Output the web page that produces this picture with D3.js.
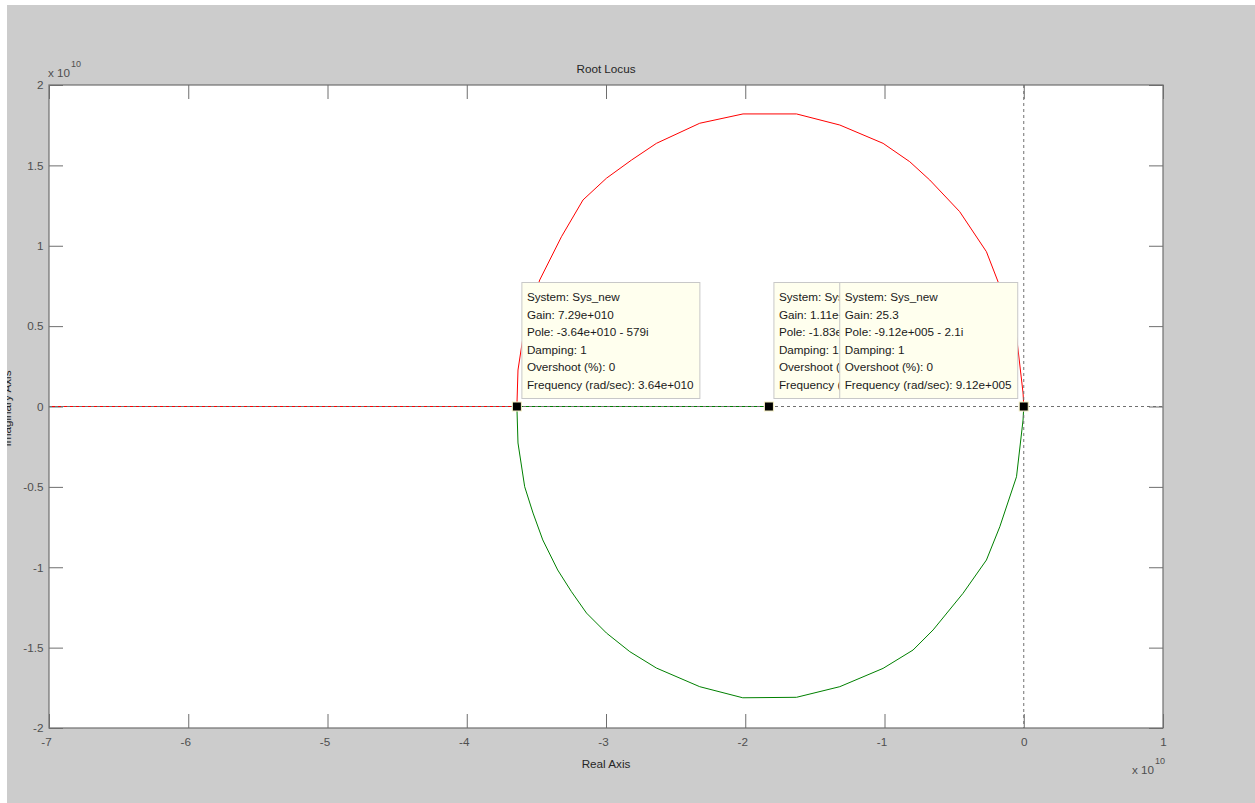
<!DOCTYPE html>
<html>
<head>
<meta charset="utf-8">
<script src="https://cdn.jsdelivr.net/npm/d3@7"></script>
<style>
  body { margin: 0; background: #fff; }
  svg text { font-family: Arial, "Liberation Sans", Helvetica, sans-serif; }
</style>
</head>
<body>
<svg id="fig" width="1255" height="803"></svg>
<script>
// Root locus of Sys_new. All coordinates are in units of 1e10 (real, imaginary).

// Upper branch (red): from the pole near the origin, over the top, to the break-in point
const upperBranch = [
  [0, 0], [-0.005, 0.084], [-0.052, 0.437], [-0.172, 0.748], [-0.268, 0.963],
  [-0.460, 1.212], [-0.675, 1.409], [-0.819, 1.523], [-1.010, 1.637],
  [-1.321, 1.751], [-1.632, 1.820], [-2.016, 1.820], [-2.327, 1.762],
  [-2.638, 1.637], [-2.817, 1.533], [-2.997, 1.420], [-3.165, 1.285],
  [-3.320, 1.056], [-3.476, 0.787], [-3.524, 0.663], [-3.584, 0.499],
  [-3.632, 0.227], [-3.64, 0]
];
// Red branch continuing along the negative real axis
const redRealAxis = [[-3.64, 0], [-7.5, 0]];

// Lower branch (green): conjugate arc from the break-in point back to the origin
const lowerBranch = [
  [-3.64, 0], [-3.632, -0.227], [-3.584, -0.499], [-3.524, -0.663],
  [-3.454, -0.830], [-3.347, -1.017], [-3.248, -1.152], [-3.140, -1.285],
  [-2.997, -1.409], [-2.829, -1.525], [-2.638, -1.627], [-2.327, -1.743],
  [-2.018, -1.812], [-1.632, -1.809], [-1.321, -1.743], [-1.010, -1.629],
  [-0.795, -1.515], [-0.651, -1.390], [-0.436, -1.162], [-0.268, -0.955],
  [-0.172, -0.748], [-0.052, -0.437], [-0.005, -0.084], [0, 0]
];
// Green branch segment on the real axis
const greenRealAxis = [[-3.64, 0], [-1.83, 0]];

// Data tips: selected pole (units of 1e10) and the text shown in each tip
const tipPoles = [-3.64, -1.83, -0.0000912];
const tipSides = ["right", "right", "left"];
const tipTexts = [
  ["System: Sys_new", "Gain: 7.29e+010", "Pole: -3.64e+010 - 579i", "Damping: 1",
   "Overshoot (%): 0", "Frequency (rad/sec): 3.64e+010"],
  ["System: Sys_new", "Gain: 1.11e+010", "Pole: -1.83e+010", "Damping: 1",
   "Overshoot (%): 0", "Frequency (rad/sec): 1.83e+010"],
  ["System: Sys_new", "Gain: 25.3", "Pole: -9.12e+005 - 2.1i", "Damping: 1",
   "Overshoot (%): 0", "Frequency (rad/sec): 9.12e+005"]
];

// Axis ticks (units of 1e10)
const xTicks = [-7, -6, -5, -4, -3, -2, -1, 0, 1];
const yTicks = [-2, -1.5, -1, -0.5, 0, 0.5, 1, 1.5, 2];

const titleText = "Root Locus";
const xLabelText = "Real Axis";
const yLabelText = "Imaginary Axis";

// ---------------------------------------------------------------
const svg = d3.select("#fig");
const W = 1255, H = 803;
const L = 49, R = 1163, T = 85, B = 728;
const FS = 11.7;

const x = d3.scaleLinear().domain([-7, 1]).range([L, R]);
const y = d3.scaleLinear().domain([-2, 2]).range([B, T]);
const fmt = v => String(+v.toFixed(2));

const axisGrey = "#6e6e6e";
const labelGrey = "#4f4f4f";

// figure background
svg.append("rect").attr("width", W).attr("height", H).attr("fill", "#ffffff");
svg.append("rect").attr("x", 7).attr("y", 5).attr("width", W - 7).attr("height", H - 5)
  .attr("fill", "#cccccc");

svg.append("clipPath").attr("id", "figClip")
  .append("rect").attr("x", 7).attr("y", 5).attr("width", W - 7).attr("height", H - 5);
svg.append("clipPath").attr("id", "plotClip")
  .append("rect").attr("x", L).attr("y", T).attr("width", R - L).attr("height", B - T);

// axes background
svg.append("rect").attr("x", L).attr("y", T).attr("width", R - L).attr("height", B - T)
  .attr("fill", "#ffffff");

// ticks (inward, on all four sides)
function styleAxis(g) {
  g.select(".domain").remove();
  g.selectAll(".tick line").attr("stroke", axisGrey).attr("stroke-width", 1);
  g.selectAll(".tick text").attr("fill", labelGrey).attr("font-size", FS)
    .attr("font-family", null);
}
svg.append("g").attr("transform", `translate(0,${B})`)
  .call(d3.axisBottom(x).tickValues(xTicks).tickSize(-14).tickPadding(9.5)
    .tickFormat(fmt))
  .call(styleAxis)
  .call(g => g.selectAll(".tick text").attr("dx", d => d < 0 ? -3 : 0));
svg.append("g").attr("transform", `translate(0,${T})`)
  .call(d3.axisTop(x).tickValues(xTicks).tickSize(-14).tickFormat(""))
  .call(styleAxis);
svg.append("g").attr("transform", `translate(${L},0)`)
  .call(d3.axisLeft(y).tickValues(yTicks).tickSize(-14).tickPadding(5.5).tickFormat(fmt))
  .call(styleAxis);
svg.append("g").attr("transform", `translate(${R},0)`)
  .call(d3.axisRight(y).tickValues(yTicks).tickSize(-14).tickFormat(""))
  .call(styleAxis);

// locus branches
const line = d3.line().x(d => x(d[0])).y(d => y(d[1]));
const plot = svg.append("g").attr("clip-path", "url(#plotClip)");
plot.append("path").datum(redRealAxis).attr("d", line)
  .attr("fill", "none").attr("stroke", "#ff0000").attr("stroke-width", 1);
plot.append("path").datum(upperBranch).attr("d", line)
  .attr("fill", "none").attr("stroke", "#ff0000").attr("stroke-width", 1);
plot.append("path").datum(greenRealAxis).attr("d", line)
  .attr("fill", "none").attr("stroke", "#008000").attr("stroke-width", 1);
plot.append("path").datum(lowerBranch).attr("d", line)
  .attr("fill", "none").attr("stroke", "#008000").attr("stroke-width", 1);

// dotted reference lines through the origin
plot.append("line").attr("x1", L).attr("x2", R).attr("y1", y(0)).attr("y2", y(0))
  .attr("stroke", "#707070").attr("stroke-width", 1).attr("stroke-dasharray", "3,3");
plot.append("line").attr("x1", x(0)).attr("x2", x(0)).attr("y1", T).attr("y2", B)
  .attr("stroke", "#707070").attr("stroke-width", 1).attr("stroke-dasharray", "3,3");

// axes box
svg.append("rect").attr("x", L).attr("y", T).attr("width", R - L).attr("height", B - T)
  .attr("fill", "none").attr("stroke", axisGrey).attr("stroke-width", 1.2);

// selected pole markers
svg.append("g").selectAll("rect").data(tipPoles).join("rect")
  .attr("x", d => x(d) - 4.5).attr("y", y(0) - 4.5)
  .attr("width", 9).attr("height", 9)
  .attr("fill", "#000000").attr("stroke", "#f4efc4").attr("stroke-width", 1);

// data tip boxes; each tip's text is clipped to the part left uncovered by later tips
const boxW = 178, boxH = 116, lineH = 17.5;
const boxes = tipPoles.map((p, i) => {
  const px = x(p), py = y(0);
  return {
    x: tipSides[i] === "right" ? px + 5 : px - 6 - boxW,
    y: py - 124
  };
});
boxes.forEach((b, i) => {
  let visibleRight = b.x + boxW;
  boxes.slice(i + 1).forEach(o => {
    if (o.x > b.x && o.x < visibleRight && Math.abs(o.y - b.y) < boxH) visibleRight = o.x;
  });
  const clipId = `tipClip${i}`;
  svg.append("clipPath").attr("id", clipId)
    .append("rect").attr("x", b.x).attr("y", b.y)
    .attr("width", visibleRight - b.x).attr("height", boxH);
  const g = svg.append("g");
  g.append("rect").attr("x", b.x).attr("y", b.y).attr("width", boxW).attr("height", boxH)
    .attr("fill", "#ffffee").attr("stroke", "#c8c8c8").attr("stroke-width", 1);
  g.append("g").attr("clip-path", `url(#${clipId})`)
    .selectAll("text").data(tipTexts[i]).join("text")
    .attr("x", b.x + 5).attr("y", (d, k) => b.y + 18.5 + k * lineH)
    .attr("font-size", FS).attr("fill", "#1a1a1a").text(d => d);
});

// title and axis labels
svg.append("text").attr("x", (L + R) / 2).attr("y", 73).attr("text-anchor", "middle")
  .attr("font-size", FS).attr("fill", "#262626").text(titleText);
svg.append("text").attr("x", (L + R) / 2).attr("y", 768).attr("text-anchor", "middle")
  .attr("font-size", FS).attr("fill", "#262626").text(xLabelText);
svg.append("g").attr("clip-path", "url(#figClip)")
  .append("text").attr("transform", `translate(11,${(T + B) / 2 + 2}) rotate(-90)`)
  .attr("text-anchor", "middle").attr("font-size", FS).attr("fill", "#262626")
  .text(yLabelText);

// exponent labels
function exponent(xPos, yBase) {
  const g = svg.append("g").attr("fill", labelGrey);
  g.append("text").attr("x", xPos).attr("y", yBase).attr("font-size", FS).text("x 10");
  g.append("text").attr("x", xPos + 23).attr("y", yBase - 10).attr("font-size", 9).text("10");
}
exponent(48, 77);
exponent(1132, 774);
</script>
</body>
</html>
